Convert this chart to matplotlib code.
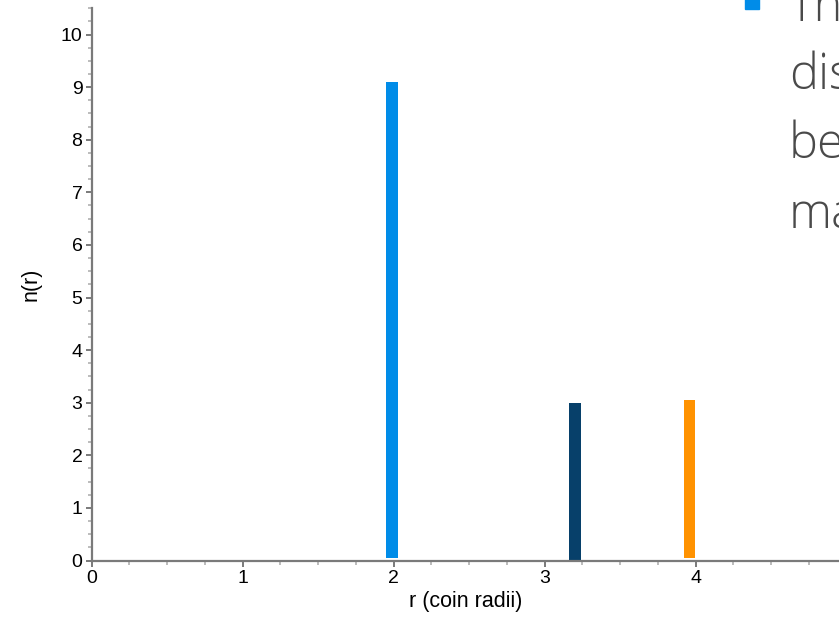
import matplotlib
matplotlib.use("Agg")
import matplotlib.pyplot as plt
from matplotlib.ticker import MultipleLocator
from matplotlib.patches import Rectangle

# Data
radii = [1.99, 3.2, 3.96]
counts_top = [9.1, 3.0, 3.06]
counts_bottom = [0.05, 0.0, 0.05]
bar_colors = ["#008CE8", "#07406A", "#FF9200"]
x_ticks = [0, 1, 2, 3, 4]
y_ticks = list(range(0, 11))
x_label = "r (coin radii)"
y_label = "n(r)"
side_lines = ["This", "distribution", "becomes", "many"]

W, H = 839, 624
fig = plt.figure(figsize=(W / 100, H / 100), dpi=100)
ax = fig.add_axes([91.5 / W, 1 - 560.5 / H, 1 - 91.5 / W, (560.5 - 8.2) / H])

heights = [t - b for t, b in zip(counts_top, counts_bottom)]
ax.bar(radii, heights, bottom=counts_bottom, width=0.077, color=bar_colors,
       linewidth=0, zorder=3, clip_on=False)

ax.set_xlim(0, 4.95)
ax.set_ylim(0, 10.5)
ax.set_xticks(x_ticks)
ax.set_yticks(y_ticks)
ax.xaxis.set_minor_locator(MultipleLocator(0.25))
ax.yaxis.set_minor_locator(MultipleLocator(0.25))

for s in ["top", "right"]:
    ax.spines[s].set_visible(False)
for s in ["left", "bottom"]:
    ax.spines[s].set_color("#7a7a7a")
    ax.spines[s].set_linewidth(1.6)
    ax.spines[s].set_zorder(4)

font = ["Liberation Sans", "DejaVu Sans"]
ax.tick_params(which="major", direction="out", length=4.5, width=1.4,
               color="#7a7a7a", labelsize=14, pad=2)
ax.tick_params(which="minor", direction="out", length=3, width=1.2,
               color="#b0b0b0")
for lab in ax.get_xticklabels() + ax.get_yticklabels():
    lab.set_family(font)
    lab.set_color("#000000")

ax.set_xlabel(x_label, fontsize=15.5, family=font, labelpad=3)
ax.set_ylabel(y_label, fontsize=15.5, family=font, labelpad=14)

# Slide text on the right (cropped at the figure edge, as in the reference)
fig.patches.append(Rectangle((745 / W, 1 - 9.3 / H), 14 / W, 14 / H,
                             transform=fig.transFigure, color="#008CE8",
                             zorder=5))
baselines = [20.7, 89, 158, 228]
for line, b in zip(side_lines, baselines):
    fig.text(789 / W, 1 - b / H, line, fontsize=35,
             family=["Open Sans", "DejaVu Sans"],
             fontweight=300, color="#4a4a4a", va="baseline", ha="left")

fig.savefig("out.png", dpi=100)
